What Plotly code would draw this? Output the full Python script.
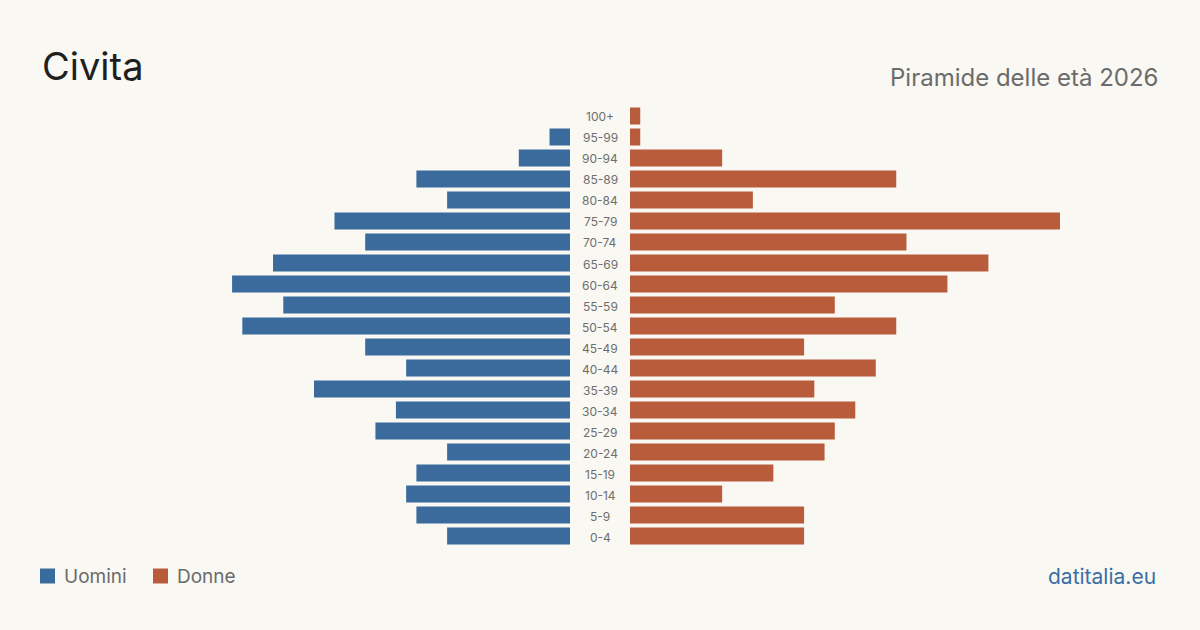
import plotly.graph_objects as go

ages = ["100+", "95-99", "90-94", "85-89", "80-84", "75-79", "70-74", "65-69",
        "60-64", "55-59", "50-54", "45-49", "40-44", "35-39", "30-34", "25-29",
        "20-24", "15-19", "10-14", "5-9", "0-4"]
uomini = [0, 2, 5, 15, 12, 23, 20, 29, 33, 28, 32, 20, 16, 25, 17, 19, 12, 15, 16, 15, 12]
donne = [1, 1, 9, 26, 12, 42, 27, 35, 31, 20, 26, 17, 24, 18, 22, 20, 19, 14, 9, 17, 17]
legend_names = ["Uomini", "Donne"]

BLUE = "#3b6b9d"
ORANGE = "#b95c3c"
BG = "#f9f8f3"
FONT = "Inter"

fig = go.Figure()
fig.add_trace(go.Bar(y=ages, x=uomini, orientation="h", name=legend_names[0],
                     marker=dict(color=BLUE, line=dict(width=0)),
                     xaxis="x", yaxis="y", hoverinfo="x+y"))
fig.add_trace(go.Bar(y=ages, x=donne, orientation="h", name=legend_names[1],
                     marker=dict(color=ORANGE, line=dict(width=0)),
                     xaxis="x2", yaxis="y", hoverinfo="x+y"))

W, H = 1200, 630
xmax = 42

for a in ages:
    fig.add_annotation(x=0.5, xref="paper", y=a, yref="y", text=a, showarrow=False,
                       font=dict(family=FONT, size=12, color="#6e6e6e"),
                       xanchor="center", yanchor="middle", yshift=-1)

fig.add_annotation(x=40 / W, y=1 - 66 / H, xref="paper", yref="paper", text="Civita",
                   showarrow=False, xanchor="left", yanchor="middle",
                   font=dict(family=FONT, size=38, color="#1f1f1f"))
fig.add_annotation(x=1160 / W, y=1 - 77 / H, xref="paper", yref="paper",
                   text="Piramide delle età 2026", showarrow=False,
                   xanchor="right", yanchor="middle",
                   font=dict(family=FONT, size=24, color="#6b6b6b"))
fig.add_annotation(x=1158 / W, y=1 - 576 / H, xref="paper", yref="paper",
                   text="datitalia.eu", showarrow=False,
                   xanchor="right", yanchor="middle",
                   font=dict(family=FONT, size=21, color="#3a6ea5"))

# custom legend
legend_items = [(legend_names[0], BLUE, 40), (legend_names[1], ORANGE, 153)]
for name, col, x0 in legend_items:
    fig.add_shape(type="rect", xref="paper", yref="paper",
                  x0=x0 / W, x1=(x0 + 15) / W, y0=1 - 583.5 / H, y1=1 - 568.5 / H,
                  fillcolor=col, line=dict(width=0))
    fig.add_annotation(x=(x0 + 22) / W, y=1 - 576 / H, xref="paper", yref="paper",
                       text=name, showarrow=False, xanchor="left", yanchor="middle",
                       font=dict(family=FONT, size=19, color="#6b6b6b"))

fig.update_layout(
    width=W, height=H,
    paper_bgcolor=BG, plot_bgcolor=BG,
    margin=dict(l=0, r=0, t=0, b=0),
    bargap=0.19,
    showlegend=False,
    xaxis=dict(domain=[(570 - xmax * 10.24) / W, 570 / W], range=[xmax, 0],
               visible=False, fixedrange=True),
    xaxis2=dict(domain=[630 / W, (630 + xmax * 10.24) / W], range=[0, xmax],
                visible=False, fixedrange=True),
    yaxis=dict(domain=[1 - 546.5 / H, 1 - 105.5 / H], range=[20.5, -0.5],
               type="category", categoryorder="array", categoryarray=ages,
               visible=False, fixedrange=True),
)

fig.write_html("out.html")
